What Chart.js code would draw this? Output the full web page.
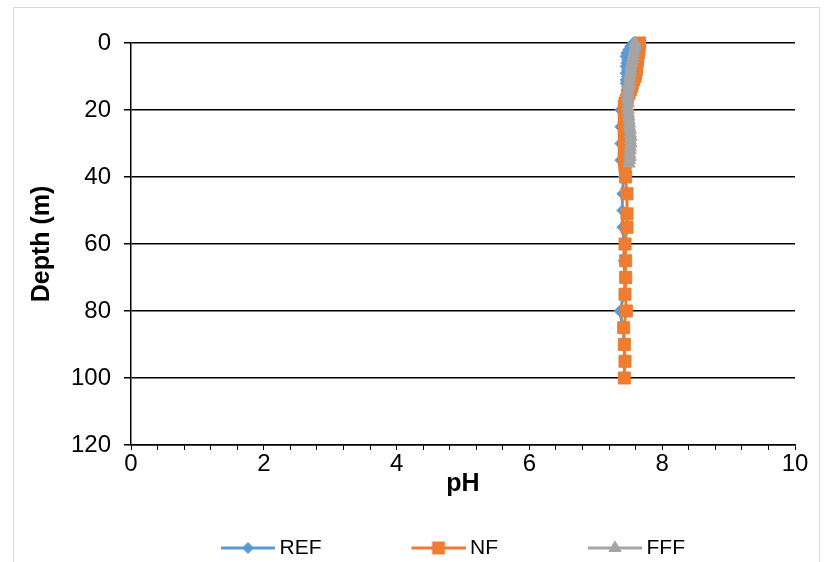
<!DOCTYPE html>
<html><head><meta charset="utf-8">
<script src="https://cdn.jsdelivr.net/npm/chart.js@4.4.0/dist/chart.umd.min.js"></script>
<style>
html,body{margin:0;padding:0;background:#fff;overflow:hidden;width:824px;height:562px}
#frame{position:absolute;left:13px;top:7px;width:805px;height:600px;border:1px solid #d9d9d9;}
#c{position:absolute;left:0;top:0}
</style></head><body>
<div id="frame"><canvas id="c" width="805" height="562" style="width:805px;height:562px"></canvas></div>
<script>
// ---- data (pH vs depth in m) ----
const refDepth = [0,1,2,3,4,5,6,7,8,9,10,11,12,13,14,15,20,25,30,35,40,45,50,55,60,65,70,75,80,85,90,95,100];
const refPH    = [7.56,7.52,7.49,7.46,7.45,7.47,7.46,7.45,7.47,7.45,7.47,7.45,7.45,7.47,7.46,7.47,7.37,7.37,7.37,7.37,7.42,7.40,7.40,7.40,7.43,7.42,7.44,7.43,7.36,7.41,7.43,7.43,7.43];

const nfDepth = [0,1,2,3,4,5,6,7,8,9,10,11,12,13,14,15,16,17,18,19,20,21,22,23,24,25,26,27,28,29,30,31,32,33,34,35,36,37,40,45,51,55,60,65,70,75,80,85,90,95,100];
const nfPH    = [7.66,7.65,7.65,7.64,7.63,7.63,7.62,7.61,7.61,7.60,7.59,7.57,7.55,7.54,7.52,7.50,7.48,7.46,7.44,7.43,7.43,7.44,7.43,7.43,7.44,7.43,7.43,7.44,7.43,7.43,7.44,7.43,7.43,7.44,7.43,7.43,7.44,7.44,7.45,7.47,7.47,7.47,7.44,7.45,7.45,7.44,7.46,7.42,7.43,7.44,7.43];

const fffDepth = [0,1,2,3,4,5,6,7,8,9,10,11,12,13,14,15,16,17,18,19,20,21,22,23,24,25,26,27,28,29,30,31,32,33,34,35,36];
const fffPH    = [7.59,7.59,7.58,7.57,7.56,7.55,7.54,7.53,7.53,7.52,7.51,7.51,7.50,7.50,7.49,7.48,7.48,7.48,7.49,7.48,7.49,7.49,7.50,7.50,7.51,7.51,7.52,7.52,7.53,7.52,7.53,7.52,7.52,7.51,7.52,7.51,7.50];

const seriesNames = ['REF','NF','FFF'];
const xTickLabels = ['0','2','4','6','8','10'];
const yTickLabels = ['0','20','40','60','80','100','120'];

const FONT = "'Liberation Sans', Arial, sans-serif";
const COLORS = ['#5B9BD5','#ED7D31','#A5A5A5'];
const STYLES = ['rectRot','rect','triangle'];
const RADII = [5.5,8.5,7];

function pts(d,v){ return d.map((y,i)=>({x:v[i], y:y})); }

const datasets = [
  {label:seriesNames[0], data:pts(refDepth,refPH), order:2},
  {label:seriesNames[1], data:pts(nfDepth,nfPH), order:1},
  {label:seriesNames[2], data:pts(fffDepth,fffPH), order:0}
].map((d,i)=>Object.assign(d,{
  showLine:true, borderColor:COLORS[i], backgroundColor:COLORS[i], borderWidth:3,
  pointStyle:STYLES[i], pointRadius:RADII[i], pointBorderWidth:1,
  pointBorderColor:COLORS[i], pointBackgroundColor:COLORS[i], clip:false, tension:0
}));

const icons = {};
function icon(i){
  if (icons[i]) return icons[i];
  const c = document.createElement('canvas'); c.width = 140; c.height = 24;
  const g = c.getContext('2d');
  g.strokeStyle = COLORS[i]; g.lineWidth = 3; g.lineCap='butt';
  g.beginPath(); g.moveTo(86,12); g.lineTo(140,12); g.stroke();
  g.fillStyle = COLORS[i]; g.lineWidth = 1;
  Chart.helpers.drawPoint(g, {pointStyle:STYLES[i], radius:RADII[i], borderWidth:1, rotation:0}, 113, 12);
  icons[i] = c; return c;
}

function near(v, arr){ return arr.some(a => Math.abs(v - parseFloat(a)) < 1e-6); }

new Chart(document.getElementById('c'), {
  type:'scatter',
  data:{datasets},
  options:{
    responsive:false, animation:false, devicePixelRatio:1,
    layout:{padding:{left:0, right:24, top:35, bottom:1.5}},
    plugins:{
      tooltip:{enabled:false},
      legend:{
        position:'bottom', align:'start', fullSize:false,
        labels:{
          usePointStyle:true, pointStyleWidth:128, padding:10,
          color:'#000', font:{family:FONT, size:21},
          generateLabels(chart){
            return chart.data.datasets.map((ds,i)=>({
              text:ds.label, pointStyle:icon(i), fillStyle:COLORS[i], strokeStyle:COLORS[i],
              lineWidth:0, hidden:false, datasetIndex:i, fontColor:'#000'
            }));
          }
        }
      }
    },
    scales:{
      x:{
        type:'linear', position:'bottom', min:0, max:10,
        afterFit(s){ s.height = 82.5; },
        ticks:{
          stepSize:0.4, autoSkip:false, maxRotation:0, padding:0,
          color:'#000', font:{family:FONT, size:24},
          callback(v){ return near(v, xTickLabels) ? String(Math.round(v)) : ''; }
        },
        grid:{drawOnChartArea:false, drawTicks:true, tickLength:5, color:'#000', lineWidth:1},
        border:{display:true, color:'#000', width:1.5},
        title:{display:true, text:'pH', color:'#000', font:{family:FONT, size:25, weight:'bold'}, padding:{top:0, bottom:28.5}}
      },
      y:{
        type:'linear', reverse:true, min:0, max:120,
        afterFit(s){ s.width = 117; },
        ticks:{
          stepSize:20, padding:13, color:'#000', font:{family:FONT, size:24},
          callback(v){ return near(v, yTickLabels) ? String(v) : ''; }
        },
        grid:{drawOnChartArea:true, drawTicks:true, tickLength:7, color:'#000', lineWidth:1.5},
        border:{display:true, color:'#000', width:1.5},
        title:{display:true, text:'Depth (m)', color:'#000', font:{family:FONT, size:25, weight:'bold'}, padding:{top:13, bottom:0}}
      }
    }
  }
});
</script>
</body></html>
